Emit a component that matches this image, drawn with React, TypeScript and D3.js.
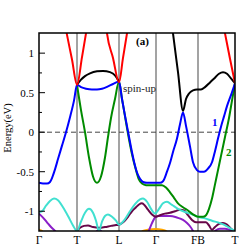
import React, { useRef, useEffect } from 'react';
import * as d3 from 'd3';

// high-symmetry points along the k-path
const kTicks = [0, 0.38, 0.8, 1.17, 1.59, 1.96];
const kLabels = ['Γ', 'T', 'L', 'Γ', 'FB', 'T'];
const yMajor = [-1, -0.5, 0, 0.5, 1];
const yMinor = [-0.75, -0.25, 0.25, 0.75];

type Pt = [number, number];

const redA: Pt[] = [[0.19, 1.85], [0.277, 1.25], [0.33, 0.92], [0.38, 0.6], [0.43, 0.95], [0.47, 1.25], [0.53, 1.75], [0.59, 1.95], [0.65, 1.6], [0.68, 1.25], [0.74, 0.94], [0.8, 0.63], [0.84, 0.94], [0.88, 1.25], [0.93, 1.65]];
const redB: Pt[] = [[1.79, 1.7], [1.86, 1.25], [1.91, 0.93], [1.96, 0.62]];

const blackA: Pt[] = [[0.38, 0.6], [0.42, 0.665], [0.46, 0.71], [0.51, 0.745], [0.58, 0.77], [0.64, 0.775], [0.71, 0.76], [0.76, 0.72], [0.8, 0.64]];
const blackB: Pt[] = [[1.31, 1.55], [1.34, 1.25], [1.39, 0.76], [1.44, 0.27], [1.47, 0.42], [1.5, 0.49], [1.54, 0.53], [1.58, 0.54], [1.62, 0.54], [1.66, 0.57], [1.71, 0.63], [1.76, 0.69], [1.8, 0.74], [1.84, 0.76], [1.88, 0.74], [1.92, 0.68], [1.96, 0.62]];

const band1: Pt[] = [[0, -0.64], [0.04, -0.65], [0.08, -0.65], [0.11, -0.63], [0.13, -0.58], [0.16, -0.47], [0.19, -0.34], [0.23, -0.17], [0.27, 0], [0.31, 0.19], [0.35, 0.4], [0.38, 0.6], [0.42, 0.57], [0.47, 0.55], [0.53, 0.54], [0.58, 0.54], [0.63, 0.55], [0.69, 0.58], [0.74, 0.61], [0.8, 0.64], [0.83, 0.42], [0.86, 0.21], [0.89, 0.01], [0.92, -0.19], [0.95, -0.37], [0.98, -0.51], [1.01, -0.59], [1.04, -0.63], [1.08, -0.64], [1.13, -0.64], [1.17, -0.64], [1.21, -0.64], [1.24, -0.62], [1.28, -0.5], [1.31, -0.39], [1.34, -0.25], [1.38, -0.08], [1.41, 0.1], [1.44, 0.25], [1.47, 0.08], [1.51, -0.18], [1.54, -0.38], [1.58, -0.48], [1.61, -0.5], [1.65, -0.5], [1.69, -0.46], [1.73, -0.38], [1.76, -0.24], [1.79, -0.08], [1.82, 0.07], [1.85, 0.2], [1.88, 0.33], [1.92, 0.47], [1.96, 0.62]];

const band2: Pt[] = [[0.38, 0.6], [0.42, 0.28], [0.46, 0], [0.5, -0.32], [0.54, -0.56], [0.58, -0.64], [0.62, -0.56], [0.66, -0.32], [0.69, -0.06], [0.72, 0.18], [0.76, 0.42], [0.8, 0.64], [0.83, 0.42], [0.86, 0.2], [0.89, -0.02], [0.93, -0.28], [0.97, -0.48], [1.0, -0.6], [1.03, -0.65], [1.07, -0.67], [1.12, -0.67], [1.17, -0.67], [1.23, -0.67], [1.27, -0.7], [1.31, -0.76], [1.35, -0.83], [1.39, -0.9], [1.44, -0.95], [1.49, -0.99], [1.54, -1.04], [1.59, -1.07], [1.64, -1.07], [1.67, -1.05], [1.7, -0.97], [1.73, -0.84], [1.76, -0.66], [1.79, -0.48], [1.82, -0.3], [1.86, -0.06], [1.9, 0.18], [1.93, 0.4], [1.96, 0.62]];

const cyan: Pt[] = [[0, -1.01], [0.03, -1.0], [0.07, -0.93], [0.11, -0.87], [0.15, -0.84], [0.19, -0.86], [0.24, -0.95], [0.29, -1.06], [0.34, -1.18], [0.38, -1.25], [0.42, -1.13], [0.46, -1.02], [0.5, -0.97], [0.54, -1.02], [0.57, -1.12], [0.6, -1.25], [0.63, -1.13], [0.66, -1.06], [0.69, -1.04], [0.73, -1.07], [0.77, -1.12], [0.8, -1.17], [0.86, -1.1], [0.91, -1.0], [0.96, -0.91], [1.01, -0.85], [1.04, -0.84], [1.08, -0.88], [1.12, -0.97], [1.16, -1.03], [1.2, -0.97], [1.24, -0.9], [1.28, -0.88], [1.33, -0.92], [1.39, -0.97], [1.46, -1.01], [1.53, -1.04], [1.59, -1.07], [1.66, -1.09], [1.73, -1.12], [1.81, -1.15], [1.88, -1.19], [1.93, -1.23], [1.96, -1.25]];

const maroon: Pt[] = [[0.38, -1.25], [0.41, -1.21], [0.45, -1.185], [0.49, -1.18], [0.54, -1.2], [0.6, -1.21], [0.66, -1.2], [0.72, -1.185], [0.77, -1.175], [0.81, -1.165], [0.85, -1.13], [0.89, -1.07], [0.93, -1.0], [0.97, -0.95], [1.0, -0.915], [1.03, -0.9], [1.06, -0.93], [1.09, -0.98], [1.13, -1.04], [1.17, -1.07], [1.21, -1.05], [1.26, -1.03], [1.31, -1.02], [1.36, -1.0], [1.41, -0.98], [1.45, -0.99], [1.49, -1.05], [1.53, -1.11], [1.57, -1.14], [1.62, -1.14], [1.67, -1.14], [1.7, -1.18], [1.73, -1.235], [1.76, -1.2], [1.8, -1.16], [1.84, -1.15], [1.88, -1.17], [1.92, -1.22], [1.96, -1.26]];

const violetA: Pt[] = [[0, -1.03], [0.04, -1.08], [0.08, -1.14], [0.12, -1.2], [0.16, -1.25], [0.19, -1.3]];
const violetB: Pt[] = [[0.55, -1.3], [0.6, -1.235], [0.65, -1.3]];
const violetC: Pt[] = [[1.07, -1.3], [1.1, -1.24], [1.13, -1.15], [1.16, -1.08], [1.19, -1.06], [1.24, -1.06], [1.31, -1.06], [1.38, -1.08], [1.44, -1.11], [1.48, -1.15], [1.51, -1.19], [1.54, -1.25], [1.56, -1.3]];
const violetD: Pt[] = [[1.73, -1.3], [1.77, -1.24], [1.81, -1.22], [1.86, -1.22], [1.91, -1.235], [1.96, -1.25]];

const orangeA: Pt[] = [[-0.03, -1.23], [0, -1.235], [0.03, -1.25], [0.05, -1.3]];
const orangeB: Pt[] = [[1.0, -1.3], [1.04, -1.25], [1.09, -1.235], [1.17, -1.225], [1.23, -1.235], [1.27, -1.25], [1.3, -1.3]];

const bands: { pts: Pt[]; color: string }[] = [
	{ pts: orangeA, color: '#ffa500' },
	{ pts: orangeB, color: '#ffa500' },
	{ pts: violetA, color: '#8a1fc8' },
	{ pts: violetB, color: '#8a1fc8' },
	{ pts: violetC, color: '#8a1fc8' },
	{ pts: violetD, color: '#8a1fc8' },
	{ pts: maroon, color: '#670748' },
	{ pts: cyan, color: '#40e0d0' },
	{ pts: band2, color: '#008b00' },
	{ pts: band1, color: '#0000ff' },
	{ pts: blackA, color: '#000000' },
	{ pts: blackB, color: '#000000' },
	{ pts: redA, color: '#ff0000' },
	{ pts: redB, color: '#ff0000' },
];

const W = 240;
const H = 246;
const margin = { top: 33, right: 5, bottom: 15, left: 39 };

const App: React.FC = () => {
	const svgRef = useRef<SVGSVGElement | null>(null);

	useEffect(() => {
		if (!svgRef.current) return;
		const svg = d3.select(svgRef.current);
		svg.selectAll('*').remove();

		const x = d3.scaleLinear().domain([0, 1.96]).range([margin.left, W - margin.right]);
		const y = d3.scaleLinear().domain([-1.25, 1.255]).range([H - margin.bottom, margin.top]);
		const [x0, x1] = x.range();
		const [y0, y1] = [y(1.255), y(-1.25)];

		svg.append('clipPath').attr('id', 'plotclip')
			.append('rect')
			.attr('x', x0).attr('y', y0)
			.attr('width', x1 - x0).attr('height', y1 - y0);

		// vertical lines at high-symmetry points
		svg.append('g')
			.selectAll('line')
			.data(kTicks.slice(1, -1))
			.join('line')
			.attr('x1', d => x(d)).attr('x2', d => x(d))
			.attr('y1', y0).attr('y2', y1)
			.attr('stroke', '#666')
			.attr('stroke-width', 1.2);

		// Fermi level
		svg.append('line')
			.attr('x1', x0).attr('x2', x1)
			.attr('y1', y(0)).attr('y2', y(0))
			.attr('stroke', '#444')
			.attr('stroke-width', 1)
			.attr('stroke-dasharray', '5,3');

		const line = d3.line<Pt>()
			.x(d => x(d[0]))
			.y(d => y(d[1]))
			.curve(d3.curveMonotoneX);

		svg.append('g')
			.attr('clip-path', 'url(#plotclip)')
			.selectAll('path')
			.data(bands)
			.join('path')
			.attr('d', d => line(d.pts))
			.attr('fill', 'none')
			.attr('stroke', d => d.color)
			.attr('stroke-width', 2)
			.attr('stroke-linejoin', 'round');

		// frame
		svg.append('rect')
			.attr('x', x0).attr('y', y0)
			.attr('width', x1 - x0).attr('height', y1 - y0)
			.attr('fill', 'none')
			.attr('stroke', '#000')
			.attr('stroke-width', 1.5);

		// y ticks (inside)
		svg.append('g')
			.selectAll('line')
			.data(yMajor)
			.join('line')
			.attr('x1', x0).attr('x2', x0 + 6)
			.attr('y1', d => y(d)).attr('y2', d => y(d))
			.attr('stroke', '#000');
		svg.append('g')
			.selectAll('line')
			.data(yMinor)
			.join('line')
			.attr('x1', x0).attr('x2', x0 + 3)
			.attr('y1', d => y(d)).attr('y2', d => y(d))
			.attr('stroke', '#000');

		const fmt = (v: number) => (v === 0 ? '0' : String(v));
		svg.append('g')
			.attr('font-family', '"Liberation Serif", serif')
			.attr('font-size', 11)
			.attr('text-anchor', 'end')
			.selectAll('text')
			.data(yMajor)
			.join('text')
			.attr('x', x0 - 5)
			.attr('y', d => y(d))
			.attr('dy', '0.35em')
			.text(d => fmt(d));

		svg.append('g')
			.attr('font-family', '"Liberation Serif", serif')
			.attr('font-size', 11.5)
			.attr('text-anchor', 'middle')
			.selectAll('text')
			.data(kTicks)
			.join('text')
			.attr('x', d => x(d))
			.attr('y', H - 2.5)
			.text((d, i) => kLabels[i]);

		svg.append('text')
			.attr('transform', `translate(11,${(y0 + y1) / 2 - 4}) rotate(-90)`)
			.attr('text-anchor', 'middle')
			.attr('font-family', '"Liberation Serif", serif')
			.attr('font-size', 10.5)
			.text('Energy(eV)');

		svg.append('text')
			.attr('x', 136).attr('y', 45)
			.attr('font-family', '"Liberation Serif", serif')
			.attr('font-weight', 'bold')
			.attr('font-size', 11)
			.text('(a)');

		svg.append('text')
			.attr('x', 123).attr('y', 92)
			.attr('font-family', '"Liberation Serif", serif')
			.attr('font-size', 11)
			.attr('fill', '#222')
			.text('spin-up');

		svg.append('text')
			.attr('x', 212).attr('y', 126)
			.attr('font-family', '"Liberation Serif", serif')
			.attr('font-weight', 'bold')
			.attr('font-size', 11)
			.attr('fill', '#0000ff')
			.text('1');

		svg.append('text')
			.attr('x', 226).attr('y', 156)
			.attr('font-family', '"Liberation Serif", serif')
			.attr('font-weight', 'bold')
			.attr('font-size', 11)
			.attr('fill', '#008b00')
			.text('2');

		return () => {
			svg.selectAll('*').remove();
		};
	}, []);

	return (
		<svg ref={svgRef} width={W} height={H} style={{ position: 'absolute', left: 0, top: 0, background: '#fff' }} />
	);
};

export default App;
